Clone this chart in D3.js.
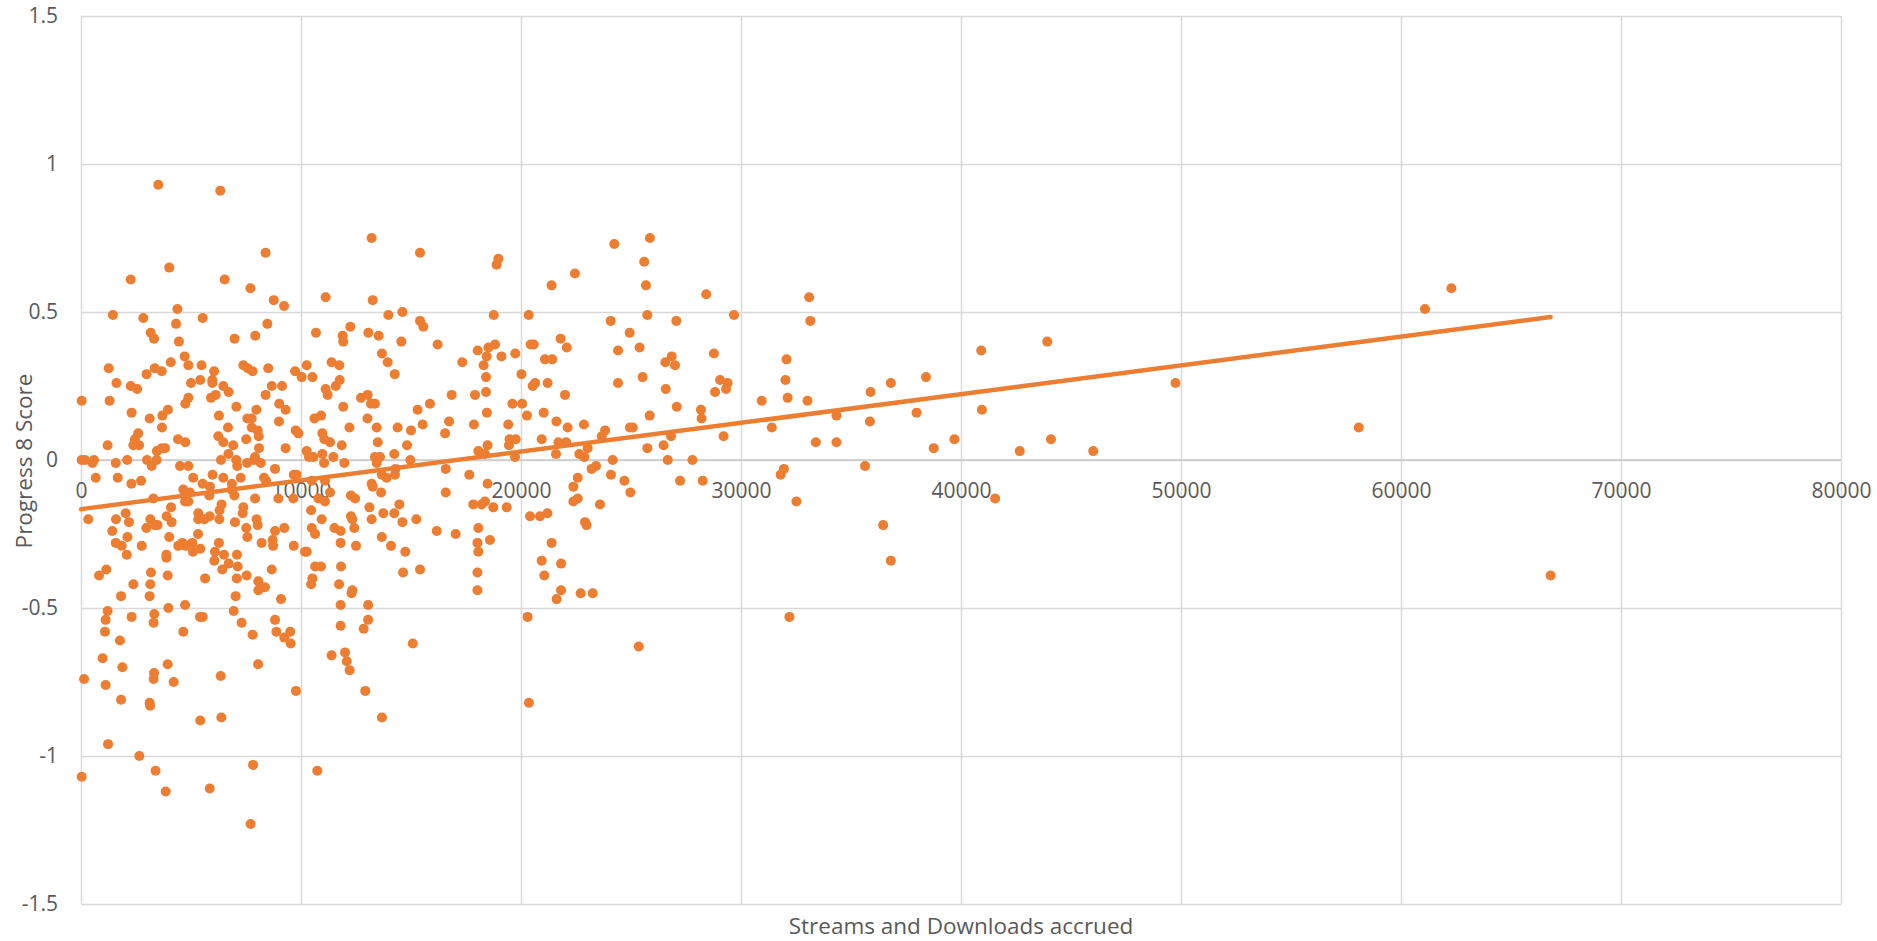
<!DOCTYPE html>
<html>
<head>
<meta charset="utf-8">
<script src="https://cdn.jsdelivr.net/npm/d3@7"></script>
<style>
	body { margin: 0; background: #fff; }
	.axis text { font-family: "Open Sans", sans-serif; font-size: 21px; fill: #595959; }
	.axis-title { font-family: "Open Sans", sans-serif; font-size: 22.5px; fill: #595959; }
	.grid line { stroke: #d9d9d9; stroke-width: 1.5; }
	.grid .domain { display: none; }
</style>
</head>
<body>
<div id="chart-area"></div>
<script>

// Streams and downloads accrued (x) against Progress 8 score (y)
var streams = [
	3515, 6330, 8390, 4010, 2260, 6530, 7700, 8760, 9230, 1450,
	2830, 4380, 5530, 4320, 8470, 3170, 3320, 4450, 6980, 7920,
	4710, 4880, 4080, 1260, 3350, 3670, 2980, 5480, 6050, 7380,
	7580, 7800, 8510, 9730, 10030, 1610, 2260, 2550, 5000, 5420,
	5970, 5970, 6470, 6710, 8670, 9140, 30, 1300, 4880, 4740,
	5910, 6120, 8390, 9010, 9300, 2300, 3950, 3700, 3120, 7060,
	7970, 6270, 7560, 7760, 9000, 3680, 6680, 7760, 8030, 2600,
	2450, 2640, 2380, 1210, 4410, 4740, 6240, 6470, 6920, 7510,
	8080, 9760, 9880, 9300, 8090, 3450, 3670, 3820, 30, 180,
	590, 520, 1580, 2100, 3000, 3210, 3440, 4500, 4880, 6360,
	6700, 7060, 7100, 7550, 7860, 8170, 7910, 8820, 670, 1670,
	2290, 2730, 5100, 5530, 5980, 6470, 7260, 6860, 8320, 8410,
	9670, 9800, 4650, 4950, 5860, 6850,

	13210, 15410, 18970, 18890, 11120, 13260, 13970, 14610, 15410, 15560,
	18760, 20350, 10680, 11890, 11920, 12240, 13060, 13530, 14560, 16210,
	18030, 18520, 18820, 18440, 19110, 19740, 20440, 20580, 13680, 13940,
	14260, 17330, 18300, 18410, 18410, 20020, 20530, 10260, 11390, 11740,
	10520, 11120, 11210, 11580, 11760, 12730, 13030, 13180, 13360, 11920,
	10610, 10910, 13020, 15300, 15860, 16850, 17910, 18450, 19610, 20050,
	20270, 12200, 13440, 14390, 15000, 15530, 16730, 17860, 19420, 10970,
	11060, 11320, 11850, 13490, 14820, 16550, 19480, 19760, 19450, 18480,
	18060, 18360, 10260, 10360, 10560, 10970, 11470, 11050, 11970, 13360,
	13590, 13440, 14240, 14970, 19730, 14300, 14270, 13670, 13890, 16580,
	17650, 18480, 13210, 13260, 13640, 16580, 10490, 11090, 11320,

	25860, 24240, 25600, 22450, 25680, 21390, 28420, 29680, 25740, 24080,
	27060, 24940, 21800, 22080, 21090, 21420, 24410, 25390, 26560, 26850,
	27000, 28770, 20640, 21210, 24410, 25530, 26580, 29050, 29390, 29320,
	28820, 22000, 21030, 21610, 22120, 22860, 23820, 23670, 24950, 25080,
	25850, 27080, 28180, 28210, 29210, 30940, 20940, 21700, 22050, 21590,
	22650, 22880, 23030, 25740, 26480, 26820, 24170, 26670, 27790, 23210,
	23410, 24090, 22580, 24700, 24970, 22380, 27230, 28260,

	330, 1590, 2030, 2180, 1420, 2110, 1580, 1850, 2080, 2760,
	2970, 3150, 3360, 3480, 3290, 3890, 4090, 4120, 4010, 4730,
	4880, 4420, 4610, 4760, 5060, 5090, 5420, 5320, 5330, 5330,
	5610, 5850, 5830, 6300, 6390, 6290, 6970, 7000, 7380, 7350,
	7510, 7560, 7980, 8030, 7910, 8210, 8710, 8820, 8730, 8970,
	9240, 9650, 9670, 10180, 6270, 6090, 6500, 6060, 7090, 6710,
	6420, 7120, 7080, 7530, 5640, 8060, 8060, 8360, 8670, 9090,
	7030, 6940, 7300, 7800, 8820, 8880, 9240, 9510, 9530, 820,
	1150, 2380, 1820, 3180, 3150, 3120, 3940, 3880, 3880, 3970,
	4730, 3330, 3300, 1210, 1120, 1090, 2300, 1770, 5410, 5530,
	4650, 980, 1880, 3940, 3320, 3300, 4210, 140, 1120, 1820,
	3120, 3140, 6350, 8050, 9770, 5420, 6380, 1230, 2650, 30,
	3390, 3850, 5850, 7820, 7710,

	10790, 11090, 12270, 12460, 10460, 10940, 10490, 10640, 10260, 11520,
	11800, 11800, 12270, 12330, 12420, 12500, 13110, 13210, 13740, 14240,
	14470, 14610, 15240, 13670, 14090, 14740, 10640, 10910, 10520, 10460,
	11820, 11730, 12330, 12300, 11800, 13050, 13050, 12850, 11800, 14640,
	15410, 16170, 17030, 17830, 18360, 18210, 18740, 19350, 18060, 18020,
	18060, 18590, 18020, 18020, 20410, 20300, 20360, 12000, 11390, 12080,
	12210, 12920, 13680, 15080, 10740,

	22380, 22580, 23590, 20860, 21200, 22910, 22980, 21390, 20940, 21820,
	21060, 21820, 21620, 22710, 23260, 25350,

	33100, 33150, 32070, 32020, 32120, 33020, 31400, 33400, 34340, 34340,
	35890, 35860, 36810, 37980, 38410, 38760, 39700, 40920, 40950, 41550,
	42670, 43920, 44090, 46010, 49750, 58080, 61090, 62290, 66800, 31950,
	31800, 32520, 35640, 36460, 36810, 32200
];

var progress8 = [
	0.93, 0.91, 0.70, 0.65, 0.61, 0.61, 0.58, 0.54, 0.52, 0.49,
	0.48, 0.51, 0.48, 0.46, 0.46, 0.43, 0.41, 0.40, 0.41, 0.42,
	0.35, 0.32, 0.33, 0.31, 0.31, 0.30, 0.29, 0.32, 0.30, 0.32,
	0.31, 0.30, 0.31, 0.30, 0.28, 0.26, 0.25, 0.24, 0.26, 0.27,
	0.27, 0.26, 0.25, 0.23, 0.25, 0.25, 0.20, 0.20, 0.21, 0.19,
	0.21, 0.22, 0.22, 0.19, 0.17, 0.16, 0.17, 0.15, 0.14, 0.18,
	0.17, 0.15, 0.14, 0.14, 0.13, 0.11, 0.11, 0.11, 0.10, 0.09,
	0.07, 0.05, 0.05, 0.05, 0.07, 0.06, 0.08, 0.06, 0.05, 0.07,
	0.08, 0.10, 0.09, 0.04, 0.04, 0.03, 0.04, 0.04, 0.00, 0.00,
	0.00, -0.01, -0.01, 0.00, 0.00, -0.02, 0.00, -0.02, -0.02, 0.00,
	0.02, 0.00, -0.02, -0.01, 0.00, -0.01, 0.01, -0.03, -0.06, -0.06,
	-0.08, -0.07, -0.06, -0.08, -0.05, -0.06, -0.06, -0.08, -0.06, -0.07,
	-0.05, -0.05, -0.10, -0.11, -0.09, -0.10,

	0.75, 0.70, 0.68, 0.66, 0.55, 0.54, 0.49, 0.50, 0.47, 0.45,
	0.49, 0.49, 0.43, 0.42, 0.40, 0.45, 0.43, 0.42, 0.40, 0.39,
	0.37, 0.38, 0.39, 0.35, 0.35, 0.36, 0.39, 0.39, 0.36, 0.33,
	0.29, 0.33, 0.32, 0.28, 0.23, 0.29, 0.25, 0.32, 0.33, 0.32,
	0.28, 0.24, 0.22, 0.25, 0.27, 0.21, 0.22, 0.19, 0.19, 0.18,
	0.14, 0.15, 0.14, 0.17, 0.19, 0.22, 0.22, 0.16, 0.19, 0.19,
	0.15, 0.11, 0.11, 0.11, 0.10, 0.12, 0.13, 0.12, 0.12, 0.09,
	0.07, 0.06, 0.05, 0.06, 0.05, 0.09, 0.07, 0.07, 0.05, 0.05,
	0.03, 0.02, 0.03, 0.01, 0.01, 0.02, 0.01, -0.01, -0.01, 0.01,
	0.01, -0.01, 0.02, 0.00, 0.01, -0.03, -0.05, -0.05, -0.06, -0.03,
	-0.05, -0.08, -0.08, -0.09, -0.11, -0.11, -0.07, -0.07, -0.11,

	0.75, 0.73, 0.67, 0.63, 0.59, 0.59, 0.56, 0.49, 0.49, 0.47,
	0.47, 0.43, 0.41, 0.38, 0.34, 0.34, 0.37, 0.38, 0.33, 0.35,
	0.32, 0.36, 0.26, 0.26, 0.26, 0.28, 0.24, 0.27, 0.26, 0.24,
	0.23, 0.22, 0.16, 0.13, 0.11, 0.12, 0.10, 0.08, 0.11, 0.11,
	0.15, 0.18, 0.17, 0.14, 0.08, 0.20, 0.07, 0.06, 0.06, 0.02,
	0.02, 0.01, 0.04, 0.04, 0.05, 0.08, 0.00, 0.00, 0.00, -0.03,
	-0.02, -0.05, -0.06, -0.07, -0.11, -0.09, -0.07, -0.07,

	-0.20, -0.20, -0.18, -0.21, -0.24, -0.26, -0.28, -0.29, -0.32, -0.29,
	-0.23, -0.20, -0.22, -0.22, -0.13, -0.19, -0.16, -0.21, -0.26, -0.14,
	-0.14, -0.29, -0.28, -0.29, -0.28, -0.31, -0.30, -0.25, -0.18, -0.20,
	-0.20, -0.19, -0.12, -0.17, -0.15, -0.20, -0.12, -0.21, -0.16, -0.18,
	-0.23, -0.26, -0.20, -0.22, -0.13, -0.28, -0.27, -0.24, -0.29, -0.13,
	-0.23, -0.13, -0.29, -0.31, -0.28, -0.31, -0.32, -0.34, -0.32, -0.35,
	-0.37, -0.36, -0.40, -0.39, -0.40, -0.41, -0.44, -0.43, -0.37, -0.47,
	-0.46, -0.51, -0.55, -0.59, -0.54, -0.58, -0.60, -0.58, -0.62, -0.39,
	-0.37, -0.42, -0.46, -0.38, -0.42, -0.46, -0.39, -0.33, -0.32, -0.50,
	-0.49, -0.52, -0.55, -0.51, -0.54, -0.58, -0.53, -0.61, -0.53, -0.53,
	-0.58, -0.67, -0.70, -0.69, -0.72, -0.74, -0.75, -0.74, -0.76, -0.81,
	-0.82, -0.83, -0.73, -0.69, -0.78, -0.88, -0.87, -0.96, -1.00, -1.07,
	-1.05, -1.12, -1.11, -1.03, -1.23,

	-0.13, -0.14, -0.12, -0.13, -0.17, -0.20, -0.23, -0.25, -0.31, -0.23,
	-0.24, -0.28, -0.19, -0.20, -0.23, -0.29, -0.16, -0.20, -0.18, -0.18,
	-0.15, -0.21, -0.20, -0.26, -0.29, -0.31, -0.36, -0.36, -0.40, -0.42,
	-0.36, -0.42, -0.44, -0.45, -0.49, -0.49, -0.54, -0.57, -0.56, -0.38,
	-0.37, -0.24, -0.25, -0.15, -0.14, -0.15, -0.16, -0.16, -0.23, -0.28,
	-0.31, -0.27, -0.38, -0.44, -0.19, -0.53, -0.82, -0.65, -0.66, -0.68,
	-0.71, -0.78, -0.87, -0.62, -1.05,

	-0.14, -0.13, -0.15, -0.19, -0.18, -0.21, -0.22, -0.28, -0.34, -0.35,
	-0.39, -0.44, -0.47, -0.45, -0.45, -0.63,

	0.55, 0.47, 0.34, 0.27, 0.21, 0.20, 0.11, 0.06, 0.06, 0.15,
	0.23, 0.13, 0.26, 0.16, 0.28, 0.04, 0.07, 0.37, 0.17, -0.13,
	0.03, 0.40, 0.07, 0.03, 0.26, 0.11, 0.51, 0.58, -0.39, -0.03,
	-0.05, -0.14, -0.02, -0.22, -0.34, -0.53
];

// Linear trendline (start and end as drawn)
var trendX = [0, 66800];
var trendY = [-0.166, 0.483];

// Axis ticks
var xTicks = [0, 10000, 20000, 30000, 40000, 50000, 60000, 70000, 80000];
var yTicks = [-1.5, -1, -0.5, 0, 0.5, 1, 1.5];


/*
 * ScatterVis - Object constructor function
 * @param _parentElement 	-- the HTML element in which to draw the visualization
 */

ScatterVis = function(_parentElement){
	this.parentElement = _parentElement;

	this.initVis();
}


ScatterVis.prototype.initVis = function(){
	var vis = this;

	vis.margin = { top: 16, right: 36, bottom: 37, left: 81 };

	vis.width = 1877 - vis.margin.left - vis.margin.right;
	vis.height = 941 - vis.margin.top - vis.margin.bottom;

	// SVG drawing area
	vis.svg = d3.select("#" + vis.parentElement).append("svg")
			.attr("width", vis.width + vis.margin.left + vis.margin.right)
			.attr("height", vis.height + vis.margin.top + vis.margin.bottom)
		.append("g")
			.attr("transform", "translate(" + vis.margin.left + "," + vis.margin.top + ")");

	// Scales
	vis.x = d3.scaleLinear()
		.domain([xTicks[0], xTicks[xTicks.length - 1]])
		.range([0, vis.width]);

	vis.y = d3.scaleLinear()
		.domain([yTicks[0], yTicks[yTicks.length - 1]])
		.range([vis.height, 0]);

	// Gridlines
	vis.svg.append("g")
		.attr("class", "grid")
		.call(d3.axisLeft(vis.y).tickValues(yTicks).tickSize(-vis.width).tickFormat(""));

	vis.svg.append("g")
		.attr("class", "grid")
		.attr("transform", "translate(0," + vis.height + ")")
		.call(d3.axisBottom(vis.x).tickValues(xTicks).tickSize(-vis.height).tickFormat(""));

	// zero line a touch darker
	vis.svg.append("line")
		.attr("x1", 0)
		.attr("x2", vis.width)
		.attr("y1", vis.y(0))
		.attr("y2", vis.y(0))
		.attr("stroke", "#c8c8c8")
		.attr("stroke-width", 1.5);

	// Axes (labels only)
	vis.xAxis = d3.axisBottom(vis.x)
		.tickValues(xTicks)
		.tickSize(0)
		.tickPadding(23)
		.tickFormat(function(d){ return String(d); });

	vis.yAxis = d3.axisLeft(vis.y)
		.tickValues(yTicks)
		.tickSize(0)
		.tickPadding(23)
		.tickFormat(function(d){ return String(d); });

	vis.svg.append("g")
		.attr("class", "x-axis axis")
		.attr("transform", "translate(0," + vis.y(0) + ")");

	vis.svg.append("g")
		.attr("class", "y-axis axis");

	// Axis titles
	vis.svg.append("text")
		.attr("class", "axis-title")
		.attr("text-anchor", "middle")
		.attr("x", vis.width / 2)
		.attr("y", vis.height + 30)
		.text("Streams and Downloads accrued");

	vis.svg.append("text")
		.attr("class", "axis-title")
		.attr("text-anchor", "middle")
		.attr("transform", "translate(-49," + (vis.height / 2 + 1) + ") rotate(-90)")
		.text("Progress 8 Score");

	vis.dotGroup = vis.svg.append("g").attr("class", "dots");
	vis.trendPath = vis.svg.append("path").attr("class", "trend");

	vis.line = d3.line()
		.x(function(d) { return vis.x(d.x); })
		.y(function(d) { return vis.y(d.y); });

	vis.wrangleData();
}


ScatterVis.prototype.wrangleData = function(){
	var vis = this;

	vis.displayData = streams.map(function(s, i){
		return { x: s, y: progress8[i] };
	});

	vis.trendData = trendX.map(function(t, i){
		return { x: t, y: trendY[i] };
	});

	vis.updateVis();
}


ScatterVis.prototype.updateVis = function(){
	var vis = this;

	vis.svg.select(".x-axis").call(vis.xAxis);
	vis.svg.select(".y-axis").call(vis.yAxis);
	vis.svg.selectAll(".axis .domain").remove();

	var dots = vis.dotGroup.selectAll("circle")
		.data(vis.displayData);

	dots.enter().append("circle")
		.merge(dots)
		.attr("cx", function(d){ return vis.x(d.x); })
		.attr("cy", function(d){ return vis.y(d.y); })
		.attr("r", 5)
		.attr("fill", "#ed7d31");

	dots.exit().remove();

	vis.trendPath
		.datum(vis.trendData)
		.attr("d", vis.line)
		.attr("fill", "none")
		.attr("stroke", "#ed7d31")
		.attr("stroke-width", 4.5)
		.attr("stroke-linecap", "round");
}


var scatterVis = new ScatterVis("chart-area");

</script>
</body>
</html>
